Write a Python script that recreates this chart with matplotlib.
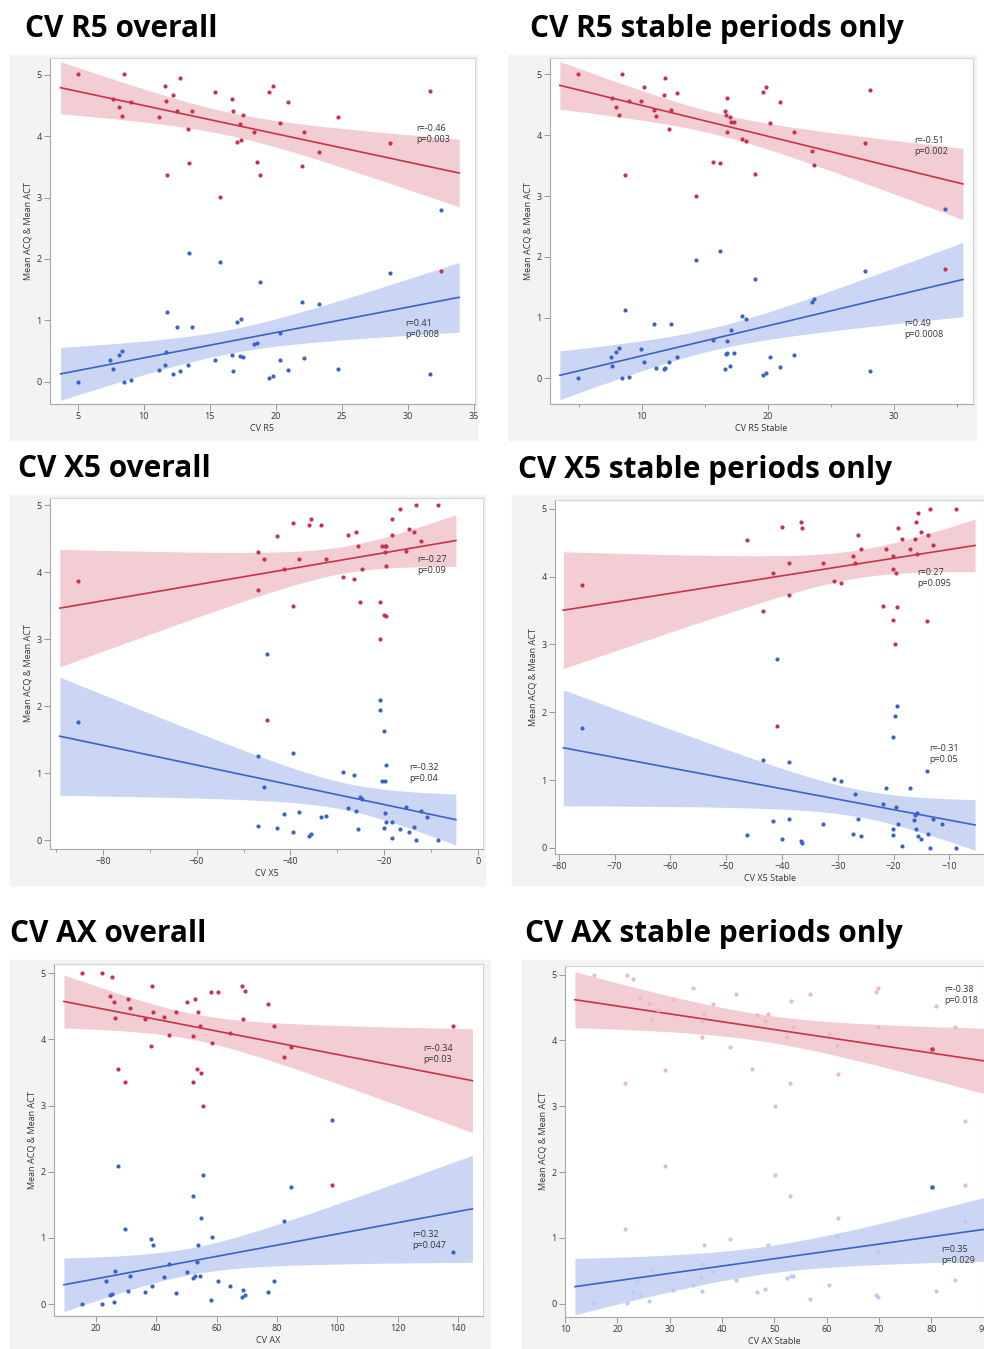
import numpy as np
import matplotlib
matplotlib.use("Agg")
import matplotlib.pyplot as plt
from matplotlib.patches import Rectangle
from matplotlib.ticker import MultipleLocator

plt.rcParams['font.family'] = ['Open Sans', 'DejaVu Sans']

W, H = 984, 1349

# ---------------- CV R5 overall ----------------
r5_red_x = [5.0, 8.51, 7.65, 8.13, 8.34, 9.02, 11.19, 11.65, 11.72, 12.23, 12.73, 12.53, 13.69,
            13.39, 13.42, 11.80, 15.39, 15.77, 16.70, 16.73, 17.53, 17.31, 17.10, 17.36, 18.39,
            18.60, 18.80, 19.53, 19.78, 20.29, 20.92, 22.01, 22.16, 23.25, 24.74, 28.63, 31.66, 32.52]
r5_red_y = [5.01, 5.01, 4.60, 4.48, 4.33, 4.56, 4.31, 4.81, 4.57, 4.66, 4.95, 4.41, 4.41,
            4.11, 3.56, 3.36, 4.71, 3.01, 4.60, 4.41, 4.34, 4.20, 3.91, 3.94, 4.06,
            3.57, 3.37, 4.71, 4.81, 4.21, 4.55, 3.51, 4.06, 3.74, 4.31, 3.88, 4.74, 1.80]
r5_blue_x = [5.0, 7.48, 7.65, 8.13, 8.34, 8.51, 9.02, 11.19, 11.65, 11.72, 11.80, 12.23, 12.53,
             12.73, 13.39, 13.42, 13.69, 15.39, 15.77, 16.70, 16.73, 17.10, 17.36, 17.31, 17.53,
             18.39, 18.60, 18.80, 19.53, 19.78, 20.29, 20.29, 20.92, 22.01, 22.16, 23.25, 24.74,
             28.63, 31.66, 32.52]
r5_blue_y = [0.0, 0.36, 0.21, 0.43, 0.50, 0.0, 0.03, 0.19, 0.28, 0.49, 1.14, 0.13, 0.90,
             0.17, 0.28, 2.09, 0.89, 0.35, 1.95, 0.43, 0.17, 0.98, 1.02, 0.42, 0.41,
             0.61, 0.64, 1.63, 0.06, 0.10, 0.80, 0.36, 0.19, 1.30, 0.39, 1.27, 0.21,
             1.77, 0.13, 2.79]

# ---------------- CV R5 stable ----------------
r5s_red_x = [4.97, 8.47, 7.62, 7.99, 8.23, 8.65, 8.97, 9.95, 10.16, 11.01, 11.14, 11.80, 11.83,
             12.17, 12.35, 12.83, 14.29, 15.66, 16.22, 16.64, 16.72, 16.77, 16.80, 16.98, 17.09,
             17.30, 17.96, 18.31, 18.99, 19.66, 19.87, 20.19, 21.01, 22.09, 23.52, 23.70, 27.70,
             28.12, 34.05]
r5s_red_y = [5.0, 5.0, 4.61, 4.47, 4.33, 3.35, 4.56, 4.56, 4.80, 4.41, 4.31, 4.66, 4.94,
             4.10, 4.41, 4.70, 3.00, 3.56, 3.55, 4.40, 4.34, 4.61, 4.05, 4.30, 4.21,
             4.21, 3.93, 3.91, 3.36, 4.71, 4.80, 4.20, 4.54, 4.05, 3.74, 3.51, 3.87,
             4.74, 1.80]
r5s_blue_x = [4.97, 7.59, 7.62, 7.99, 8.23, 8.47, 8.65, 8.97, 9.95, 10.16, 11.01, 11.14, 11.80,
              11.83, 12.17, 12.35, 12.83, 14.29, 15.66, 16.22, 16.64, 16.72, 16.77, 16.80, 16.98,
              17.09, 17.30, 17.96, 18.31, 18.99, 19.66, 19.87, 20.19, 21.01, 22.09, 23.52, 23.70,
              27.70, 28.12, 34.05]
r5s_blue_y = [0.0, 0.35, 0.20, 0.43, 0.50, 0.01, 1.13, 0.03, 0.48, 0.27, 0.90, 0.18, 0.15,
              0.18, 0.27, 0.89, 0.35, 1.95, 0.64, 2.09, 0.16, 0.41, 0.61, 0.42, 0.21,
              0.79, 0.42, 1.02, 0.98, 1.63, 0.06, 0.09, 0.36, 0.19, 0.39, 1.26, 1.30,
              1.77, 0.13, 2.78]

# ---------------- CV X5 overall ----------------
x5_red_x = [-85.34, -46.83, -46.83, -45.62, -45.05, -42.85, -41.35, -39.43, -39.50, -38.22,
            -36.01, -35.52, -33.38, -32.46, -28.83, -27.69, -26.48, -25.91, -25.62, -25.12,
            -24.70, -20.78, -20.78, -20.36, -20.07, -19.79, -19.79, -19.64, -19.64, -19.57,
            -18.29, -18.29, -16.66, -15.30, -14.73, -13.59, -13.17, -12.17, -8.54]
x5_red_y = [3.87, 4.30, 3.73, 4.20, 1.80, 4.54, 4.05, 4.73, 3.50, 4.20,
            4.70, 4.80, 4.70, 4.20, 3.93, 4.56, 3.90, 4.60, 4.40, 3.56,
            4.05, 3.55, 3.00, 4.40, 3.36, 4.40, 4.30, 4.40, 4.10, 3.35,
            4.56, 4.80, 4.94, 4.32, 4.65, 4.60, 5.0, 4.47, 5.0]
x5_blue_x = [-85.34, -46.83, -46.83, -45.62, -45.05, -42.85, -41.35, -39.43, -39.43, -38.22,
             -36.01, -35.52, -33.38, -32.46, -28.83, -27.69, -26.48, -25.91, -25.62, -25.12,
             -24.70, -20.78, -20.78, -20.36, -20.07, -19.79, -19.86, -20.0, -19.64, -19.64,
             -18.29, -18.29, -16.66, -15.30, -14.73, -13.59, -13.17, -12.17, -10.89, -8.54]
x5_blue_y = [1.77, 1.26, 0.21, 0.79, 2.78, 0.19, 0.39, 1.31, 0.13, 0.42,
             0.07, 0.10, 0.35, 0.36, 1.02, 0.48, 0.98, 0.43, 0.17, 0.64,
             0.61, 2.09, 1.95, 0.89, 1.63, 0.89, 0.41, 0.19, 1.13, 0.27,
             0.27, 0.03, 0.17, 0.50, 0.13, 0.20, 0.0, 0.43, 0.35, 0.0]

# ---------------- CV X5 stable ----------------
x5s_red_x = [-75.94, -46.29, -43.42, -41.57, -40.97, -39.95, -38.82, -38.82, -36.55, -36.37,
             -32.66, -30.75, -29.37, -27.34, -26.98, -26.44, -25.85, -21.90, -21.42, -20.17,
             -20.11, -20.11, -19.81, -19.51, -19.39, -19.27, -18.55, -17.06, -16.22, -15.98,
             -15.86, -15.68, -15.09, -13.95, -13.83, -13.41, -12.88, -8.81]
x5s_red_y = [3.88, 4.54, 3.50, 4.05, 1.80, 4.73, 4.20, 3.73, 4.81, 4.71,
             4.20, 3.93, 3.90, 4.30, 4.20, 4.61, 4.41, 3.56, 4.41, 4.30,
             3.36, 4.11, 3.00, 4.05, 3.55, 4.71, 4.55, 4.41, 4.56, 4.80,
             4.33, 4.94, 4.66, 3.35, 4.61, 5.0, 4.47, 5.0]
x5s_blue_x = [-75.94, -46.29, -43.42, -41.57, -40.97, -39.95, -38.82, -38.82, -36.55, -36.37,
              -32.66, -30.75, -29.37, -27.34, -26.98, -26.44, -25.85, -21.90, -21.42, -20.17,
              -20.17, -20.11, -19.81, -19.51, -19.39, -19.27, -18.55, -17.06, -16.34, -16.10,
              -15.86, -15.98, -15.68, -15.09, -13.95, -13.83, -13.41, -12.88, -11.26, -8.81]
x5s_blue_y = [1.77, 0.19, 1.30, 0.39, 2.78, 0.13, 1.26, 0.42, 0.10, 0.07,
              0.35, 1.02, 0.98, 0.21, 0.79, 0.43, 0.17, 0.64, 0.89, 0.28,
              0.19, 1.63, 1.95, 0.60, 2.09, 0.35, 0.03, 0.89, 0.41, 0.49,
              0.51, 0.28, 0.17, 0.13, 1.13, 0.20, 0.0, 0.43, 0.35, 0.0]

# ---------------- CV AX overall ----------------
ax_red_x = [15.47, 21.88, 25.30, 24.75, 26.08, 26.41, 27.18, 29.61, 30.61, 31.16, 36.24, 38.12,
            38.67, 38.90, 42.54, 44.31, 46.63, 50.28, 52.04, 52.27, 52.82, 53.48, 53.92, 54.36,
            54.92, 55.47, 58.23, 58.34, 60.55, 64.31, 68.40, 68.84, 69.50, 77.13, 79.12, 82.21,
            84.53, 98.12, 138.45]
ax_red_y = [5.01, 5.01, 4.94, 4.66, 4.56, 4.33, 3.55, 3.35, 4.61, 4.47, 4.31, 3.90,
            4.81, 4.41, 4.34, 4.06, 4.41, 4.57, 3.36, 4.05, 4.61, 3.56, 4.41, 4.20,
            3.50, 3.00, 4.71, 3.94, 4.71, 4.10, 4.81, 4.31, 4.73, 4.54, 4.20, 3.74,
            3.88, 1.80, 4.20]
ax_blue_x = [15.47, 21.88, 23.31, 24.75, 25.30, 26.08, 26.41, 27.18, 29.61, 30.61, 31.16, 36.24,
             38.12, 38.67, 38.90, 42.54, 44.31, 46.63, 50.28, 52.04, 52.27, 52.82, 53.48, 53.92,
             54.36, 54.92, 55.47, 58.23, 58.34, 60.55, 64.31, 68.40, 68.84, 69.50, 77.13, 79.12,
             82.21, 84.53, 98.12, 138.45]
ax_blue_y = [0.0, 0.0, 0.35, 0.13, 0.16, 0.03, 0.50, 2.09, 1.13, 0.20, 0.43, 0.18,
             0.98, 0.27, 0.89, 0.41, 0.60, 0.17, 0.48, 1.63, 0.39, 0.42, 0.64, 0.89,
             0.42, 1.30, 1.95, 0.06, 1.02, 0.35, 0.27, 0.10, 0.21, 0.13, 0.19, 0.35,
             1.26, 1.77, 2.78, 0.79]

# ---------------- CV AX stable ----------------
axs_red_x = [15.49, 21.88, 23.03, 21.43, 24.30, 26.09, 26.54, 27.69, 29.16, 30.56, 34.46, 36.18,
             36.25, 36.50, 38.35, 41.48, 42.70, 45.70, 46.65, 48.31, 48.83, 50.10, 52.34, 52.98,
             53.23, 53.55, 56.74, 60.45, 61.98, 62.24, 69.45, 69.90, 69.90, 80.11, 80.88, 84.46,
             86.50]
axs_red_y = [5.0, 5.0, 4.93, 3.35, 4.65, 4.56, 4.32, 4.46, 3.55, 4.61, 4.80, 4.05,
             4.29, 4.40, 4.56, 3.90, 4.70, 3.56, 4.39, 4.30, 4.40, 3.00, 4.05, 3.36,
             4.60, 4.20, 4.70, 4.10, 3.93, 3.49, 4.73, 4.80, 4.20, 3.87, 4.53, 4.20,
             1.80]
axs_blue_x = [15.49, 21.88, 21.43, 23.03, 23.73, 24.30, 26.09, 26.54, 29.16, 30.56, 34.46, 36.18,
              36.25, 36.0, 36.50, 38.35, 41.48, 42.70, 46.65, 48.31, 48.83, 50.10, 52.34, 52.98,
              53.23, 53.55, 56.74, 60.45, 61.98, 62.24, 69.45, 69.90, 69.90, 80.11, 80.88, 84.46,
              86.50, 86.50]
axs_blue_y = [0.02, 0.02, 1.14, 0.18, 0.35, 0.14, 0.04, 0.51, 2.09, 0.21, 0.28, 0.19,
              0.61, 0.41, 0.90, 0.49, 0.98, 0.36, 0.18, 0.22, 0.89, 1.95, 0.39, 1.63,
              0.43, 0.43, 0.07, 0.28, 1.03, 1.30, 0.14, 0.11, 0.79, 1.77, 0.20, 0.36,
              2.78, 1.26]
axs_highlight_x = 80.11

titles = ["CV R5 overall", "CV R5 stable periods only", "CV X5 overall",
          "CV X5 stable periods only", "CV AX overall", "CV AX stable periods only"]
xlabels = ["CV R5", "CV R5 Stable", "CV X5", "CV X5 Stable", "CV AX", "CV AX Stable"]
red_stats = [("-0.46", "0.003"), ("-0.51", "0.002"), ("-0.27", "0.09"),
             ("0.27", "0.095"), ("-0.34", "0.03"), ("-0.38", "0.018")]
blue_stats = [("0.41", "0.008"), ("0.49", "0.0008"), ("-0.32", "0.04"),
              ("-0.31", "0.05"), ("0.32", "0.047"), ("0.35", "0.029")]

RED = '#c9324a'
RED_BAND = '#f3cdd4'
BLUE = '#3a63c8'
BLUE_BAND = '#cbd6f4'
RED_FADE = '#eab9c4'
BLUE_FADE = '#bccaee'


def frac(l, r, t, b):
    return [l / W, 1 - b / H, (r - l) / W, (b - t) / H]


def fit_band(x, y, xs):
    x = np.asarray(x, float)
    y = np.asarray(y, float)
    n = len(x)
    b, a = np.polyfit(x, y, 1)
    yhat = a + b * xs
    s = np.sqrt(np.sum((y - (a + b * x)) ** 2) / (n - 2))
    sxx = np.sum((x - x.mean()) ** 2)
    se = s * np.sqrt(1.0 / n + (xs - x.mean()) ** 2 / sxx)
    return yhat, yhat - 2.03 * se, yhat + 2.03 * se


fig = plt.figure(figsize=(W / 100, H / 100), dpi=100)

# light grey report backgrounds behind each plot
backs = [(10, 477, 55, 440), (508, 976, 55, 440), (10, 485, 495, 885),
         (512, 984, 495, 885), (10, 490, 960, 1349), (522, 984, 960, 1349)]
for l, r, t, b in backs:
    fig.patches.append(Rectangle((l / W, 1 - b / H), (r - l) / W, (b - t) / H,
                                 transform=fig.transFigure, color='#f3f3f3', zorder=-5))

panels = [
    dict(box=(50, 475, 58, 404), xlim=(2.9, 35.1), ylim=(-0.36, 5.27), fit=(3.7, 33.9),
         red=(r5_red_x, r5_red_y), blue=(r5_blue_x, r5_blue_y), major=5, minor=None,
         rtxt=(30.65, 4.03), btxt=(29.84, 0.855)),
    dict(box=(550, 973, 58, 404), xlim=(2.72, 36.3), ylim=(-0.42, 5.27), fit=(3.5, 35.5),
         red=(r5s_red_x, r5s_red_y), blue=(r5s_blue_x, r5s_blue_y), major=10, minor=5,
         rtxt=(31.64, 3.82), btxt=(30.82, 0.82)),
    dict(box=(50, 483, 498, 849), xlim=(-91.3, 1.1), ylim=(-0.13, 5.11), fit=(-89.2, -4.7),
         red=(x5_red_x, x5_red_y), blue=(x5_blue_x, x5_blue_y), major=20, minor=10,
         rtxt=(-13.0, 4.105), btxt=(-14.73, 1.01)),
    dict(box=(555, 984, 500, 854), xlim=(-80.7, -3.8), ylim=(-0.09, 5.13), fit=(-79.2, -5.4),
         red=(x5s_red_x, x5s_red_y), blue=(x5s_blue_x, x5s_blue_y), major=10, minor=None,
         rtxt=(-15.8, 3.98), btxt=(-13.65, 1.385)),
    dict(box=(54, 483, 964, 1316), xlim=(6.1, 148.3), ylim=(-0.18, 5.14), fit=(9.4, 144.8),
         red=(ax_red_x, ax_red_y), blue=(ax_blue_x, ax_blue_y), major=20, minor=None,
         rtxt=(128.4, 3.78), btxt=(124.9, 0.975)),
    dict(box=(565, 984, 966, 1317), xlim=(10.0, 90.06), ylim=(-0.20, 5.13), fit=(11.9, 90.0),
         red=(axs_red_x, axs_red_y), blue=(axs_blue_x, axs_blue_y), major=10, minor=None,
         rtxt=(82.48, 4.69), btxt=(81.84, 0.74)),
]

for i, p in enumerate(panels):
    ax = fig.add_axes(frac(*p['box']))
    ax.set_facecolor('white')
    for (px, py), col, band in ((p['red'], RED, RED_BAND), (p['blue'], BLUE, BLUE_BAND)):
        xs = np.linspace(p['fit'][0], p['fit'][1], 200)
        yhat, lo, hi = fit_band(px, py, xs)
        ax.fill_between(xs, lo, hi, color=band, lw=0, zorder=1)
        ax.plot(xs, yhat, color=col, lw=1.2, zorder=3)
    if i == 5:
        # only one visit highlighted, the rest greyed out
        for (px, py), col, fade in ((p['red'], RED, RED_FADE), (p['blue'], BLUE, BLUE_FADE)):
            px = np.asarray(px)
            py = np.asarray(py)
            hl = np.isclose(px, axs_highlight_x)
            ax.scatter(px[~hl], py[~hl], s=9, color=fade, lw=0, zorder=4)
            ax.scatter(px[hl], py[hl], s=11, color=col, lw=0, zorder=5)
    else:
        ax.scatter(*p['red'], s=9, color=RED, lw=0, zorder=4)
        ax.scatter(*p['blue'], s=9, color=BLUE, lw=0, zorder=4)

    ax.text(*p['rtxt'], "r=%s\np=%s" % red_stats[i], fontsize=6.5, color='#333333',
            va='center', ha='left', linespacing=1.3, zorder=6)
    ax.text(*p['btxt'], "r=%s\np=%s" % blue_stats[i], fontsize=6.5, color='#333333',
            va='center', ha='left', linespacing=1.3, zorder=6)

    ax.set_xlim(*p['xlim'])
    ax.set_ylim(*p['ylim'])
    ax.xaxis.set_major_locator(MultipleLocator(p['major']))
    if p['minor']:
        ax.xaxis.set_minor_locator(MultipleLocator(p['minor']))
    ax.yaxis.set_major_locator(MultipleLocator(1))
    ax.tick_params(axis='both', which='major', labelsize=6.5, length=4, width=0.6,
                   color='#888888', labelcolor='#333333', pad=2)
    ax.tick_params(axis='both', which='minor', length=2.5, width=0.6, color='#888888')
    for side in ('left', 'bottom'):
        ax.spines[side].set_color('#a8a8a8')
        ax.spines[side].set_linewidth(0.8)
    for side in ('top', 'right'):
        ax.spines[side].set_color('#d4d4d4')
        ax.spines[side].set_linewidth(0.8)
    ax.set_xlabel(xlabels[i], fontsize=6.5, color='#333333', labelpad=2)
    ax.set_ylabel("Mean ACQ & Mean ACT", fontsize=6.5, color='#333333', labelpad=3)

# section headings
heads = [(25, 37), (530, 37), (18, 477), (518, 478), (10, 942), (525, 942)]
for (hx, hy), t in zip(heads, titles):
    fig.text(hx / W, 1 - hy / H, t, fontsize=21.5, fontweight='bold', family=['Open Sans', 'DejaVu Sans'],
             ha='left', va='baseline', color='black')

fig.savefig('out.png', dpi=100)
